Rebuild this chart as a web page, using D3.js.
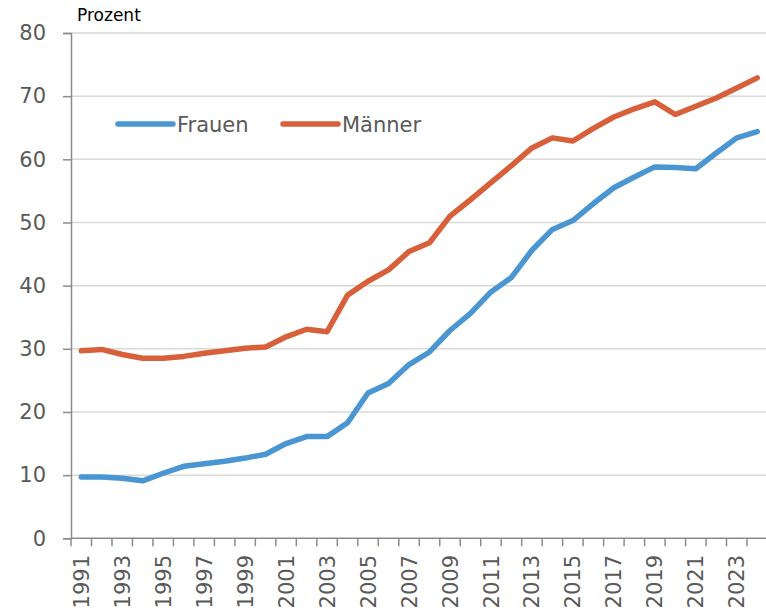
<!DOCTYPE html>
<html>
<head>
<meta charset="utf-8">
<script src="https://cdn.jsdelivr.net/npm/d3@7"></script>
<style>
  body { margin: 0; background: #fff; }
  svg { display: block; }
  .tick-label { font-family: "DejaVu Sans", sans-serif; fill: #595959; }
</style>
</head>
<body>
<div id="chart"></div>
<script>
// Data
var years = d3.range(1991, 2025);
var frauen = [9.7, 9.7, 9.5, 9.1, 10.3, 11.4, 11.8, 12.2, 12.7, 13.3,
              15.0, 16.1, 16.1, 18.3, 23.0, 24.5, 27.5, 29.5, 32.9, 35.6,
              39.0, 41.3, 45.6, 48.9, 50.3, 53.0, 55.5, 57.2, 58.8, 58.7,
              58.5, 61.0, 63.4, 64.4];
var maenner = [29.7, 29.9, 29.1, 28.5, 28.5, 28.8, 29.3, 29.7, 30.1, 30.3,
               31.9, 33.1, 32.7, 38.5, 40.7, 42.5, 45.4, 46.8, 51.0, 53.6,
               56.3, 59.0, 61.8, 63.4, 62.9, 64.9, 66.7, 68.0, 69.1, 67.1,
               68.4, 69.7, 71.3, 72.9];
var yTicks = [0, 10, 20, 30, 40, 50, 60, 70, 80];
var seriesNames = ["Frauen", "Männer"];
var colors = ["#4a96d3", "#d75f3a"];

var width = 766, height = 610;
var margin = {left: 71, right: 767.5, top: 33, bottom: 538.3};

var svg = d3.select("#chart").append("svg")
    .attr("width", width)
    .attr("height", height);

var x = d3.scaleBand().domain(years).range([margin.left, margin.right]);
var y = d3.scaleLinear().domain([0, 80]).range([margin.bottom, margin.top]);

// Gridlines
svg.append("g").selectAll("line")
    .data(yTicks.filter(function(d) { return d > 0; }))
    .enter().append("line")
    .attr("x1", margin.left).attr("x2", width)
    .attr("y1", function(d) { return y(d); })
    .attr("y2", function(d) { return y(d); })
    .attr("stroke", "#d9d9d9")
    .attr("stroke-width", 1.5);

// Y axis
var yAxis = svg.append("g")
    .attr("transform", "translate(" + margin.left + ",0)")
    .call(d3.axisLeft(y).tickValues(yTicks).tickSize(8).tickPadding(17));
yAxis.select(".domain").attr("stroke", "#8c8c8c").attr("stroke-width", 1.5);
yAxis.selectAll(".tick line").attr("stroke", "#8c8c8c").attr("stroke-width", 1.5);
yAxis.selectAll("text")
    .attr("class", "tick-label")
    .style("font-size", "21px");

// X axis (ticks between categories)
var xg = svg.append("g");
xg.append("line")
    .attr("x1", margin.left).attr("x2", width)
    .attr("y1", margin.bottom).attr("y2", margin.bottom)
    .attr("stroke", "#8c8c8c").attr("stroke-width", 1.5);
xg.selectAll(".xt")
    .data(years)
    .enter().append("line")
    .attr("class", "xt")
    .attr("x1", function(d) { return x(d); })
    .attr("x2", function(d) { return x(d); })
    .attr("y1", margin.bottom).attr("y2", margin.bottom + 8)
    .attr("stroke", "#8c8c8c").attr("stroke-width", 1.5);
xg.selectAll("text")
    .data(years.filter(function(d) { return d % 2 === 1; }))
    .enter().append("text")
    .attr("class", "tick-label")
    .style("font-size", "21px")
    .attr("text-anchor", "end")
    .attr("dy", "0.36em")
    .attr("transform", function(d) {
        return "translate(" + (x(d) + x.bandwidth() / 2) + "," + 555 + ") rotate(-90)";
    })
    .text(function(d) { return d; });

// Lines
var line = d3.line()
    .x(function(d, i) { return x(years[i]) + x.bandwidth() / 2; })
    .y(function(d) { return y(d); });

[frauen, maenner].forEach(function(s, i) {
    svg.append("path")
        .datum(s)
        .attr("d", line)
        .attr("fill", "none")
        .attr("stroke", colors[i])
        .attr("stroke-width", 5.5)
        .attr("stroke-linejoin", "round")
        .attr("stroke-linecap", "round");
});

// Unit label
svg.append("text")
    .attr("x", 77).attr("y", 21)
    .style("font-family", "DejaVu Sans, sans-serif")
    .style("font-size", "17px")
    .attr("fill", "#000")
    .text("Prozent");

// Legend
var legendX = [118, 283];
seriesNames.forEach(function(name, i) {
    var g = svg.append("g").attr("transform", "translate(" + legendX[i] + ",124)");
    g.append("line")
        .attr("x1", 0).attr("x2", 55)
        .attr("stroke", colors[i])
        .attr("stroke-width", 5.5)
        .attr("stroke-linecap", "round");
    g.append("text")
        .attr("x", 59)
        .attr("dy", "0.36em")
        .style("font-family", "DejaVu Sans, sans-serif")
        .style("font-size", "21px")
        .attr("fill", "#595959")
        .text(name);
});
</script>
</body>
</html>
